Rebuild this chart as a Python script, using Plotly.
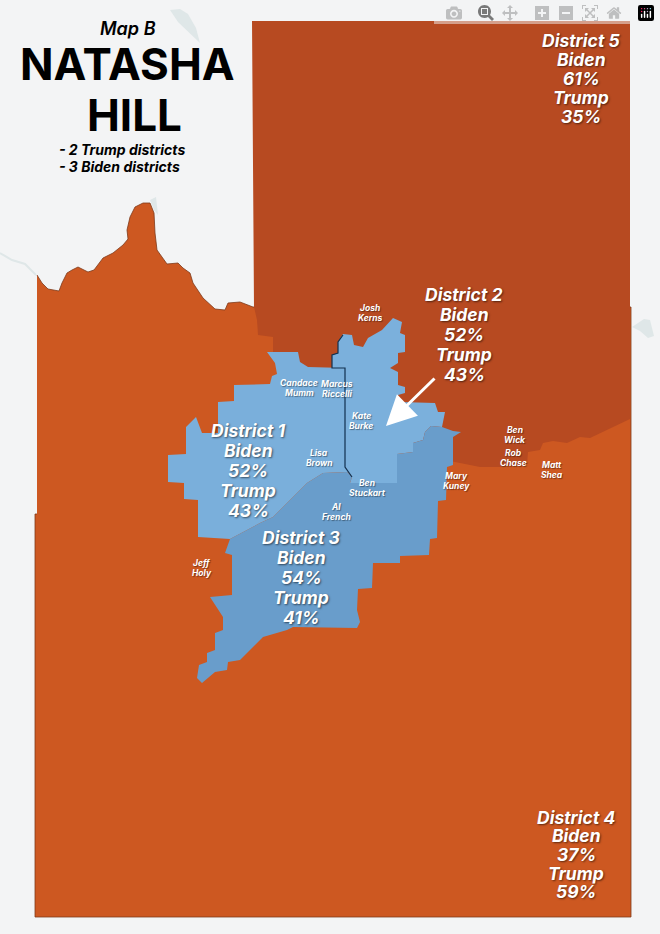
import plotly.graph_objects as go

# district outlines
county_x = [37, 42, 48, 59, 62, 67, 72, 78, 84, 88, 94, 98, 103, 113, 123, 128, 127, 130, 135, 143, 150, 154, 155, 157, 167, 178, 183, 190, 193, 203, 215, 225, 228, 240, 253, 631, 631, 35, 35, 37]
county_y = [275, 283, 289, 291, 283, 273, 270, 267, 270, 272, 270, 265, 258, 253, 245, 239, 230, 217, 207, 203, 203, 213, 233, 250, 264, 263, 268, 273, 283, 298, 309, 310, 303, 302, 307, 307, 917, 917, 514, 514]

d5_x = [252, 630, 630, 613, 600, 590, 580, 567, 553, 543, 540, 528, 527, 500, 480, 455, 400, 273, 273, 258, 257, 254]
d5_y = [21, 21, 419, 427, 433, 438, 437, 443, 441, 443, 450, 452, 465, 467, 467, 462, 450, 352, 337, 335, 320, 307]

d1_x = [230, 198, 198, 184, 184, 168, 168, 186, 186, 196, 202, 218, 218, 234, 234, 270, 272, 277, 275, 267, 298, 300, 308, 332, 345, 345, 352, 347, 323, 307, 293, 273, 260]
d1_y = [539, 537, 500, 499, 483, 482, 455, 454, 427, 417, 433, 433, 402, 401, 385, 384, 376, 374, 363, 352, 352, 362, 367, 368, 368, 467, 477, 472, 473, 483, 497, 517, 523]

d2_x = [332, 332, 338, 338, 343, 352, 354, 363, 368, 382, 393, 402, 400, 405, 405, 398, 398, 390, 398, 398, 405, 405, 398, 400, 435, 438, 445, 442, 431, 425, 423, 413, 413, 397, 397, 350, 352, 345, 345]
d2_y = [368, 355, 353, 342, 334, 335, 345, 347, 338, 330, 318, 322, 333, 335, 352, 353, 363, 368, 372, 385, 387, 393, 395, 402, 403, 412, 412, 427, 426, 432, 440, 443, 452, 454, 483, 483, 477, 467, 368]

d3_x = [230, 260, 273, 293, 307, 323, 347, 352, 350, 397, 397, 413, 413, 423, 425, 431, 442, 453, 461, 453, 453, 447, 446, 438, 437, 430, 429, 400, 400, 373, 372, 358, 357, 360, 357, 293, 287, 263, 245, 240, 228, 227, 215, 202, 197, 199, 207, 207, 215, 215, 223, 223, 210, 232, 232, 225]
d3_y = [539, 523, 517, 497, 483, 473, 472, 477, 483, 483, 454, 452, 443, 440, 432, 426, 427, 431, 432, 437, 465, 467, 500, 501, 538, 539, 555, 556, 563, 563, 588, 589, 610, 622, 628, 627, 630, 637, 655, 660, 662, 670, 672, 683, 678, 665, 662, 653, 650, 633, 630, 617, 597, 595, 555, 553]

line_x = [343, 338, 338, 332, 332, 345, 345, 352]
line_y = [335, 342, 353, 355, 368, 368, 467, 477]

# faint lakes and rivers in the background
lake1_x = [170, 180, 188, 196, 200, 193, 186, 178]
lake1_y = [10, 9, 14, 28, 43, 36, 30, 22]
lake2_x = [632, 644, 650, 654, 648, 640]
lake2_y = [327, 319, 320, 336, 338, 331]
lake3_x = [150, 156, 158, 154]
lake3_y = [200, 197, 215, 210]
river_x = [0, 12, 25, 36]
river_y = [253, 260, 264, 275]

# district result labels
district_names = ["District 1", "District 2", "District 3", "District 4", "District 5"]
biden_pct = [52, 52, 54, 37, 61]
trump_pct = [43, 43, 41, 59, 35]
district_cx = [248, 464, 301, 576, 581]
district_cy = [430, 294, 537, 817, 40]
district_step = [20, 20, 20, 18.7, 19]

# council members
people = [["Josh", "Kerns"], ["Candace", "Mumm"], ["Marcus", "Riccelli"], ["Kate", "Burke"],
          ["Lisa", "Brown"], ["Ben", "Stuckart"], ["Al", "French"], ["Jeff", "Holy"],
          ["Mary", "Kuney"], ["Ben", "Wick"], ["Rob", "Chase"], ["Matt", "Shea"]]
people_x = [370, 299, 337, 361, 319, 367, 336, 202, 456, 515, 513, 552]
people_y = [308, 383, 384, 416, 453, 483, 507, 563, 476, 430, 453, 465]

fig = go.Figure()


def add_shape(xs, ys, color, edge=None):
    fig.add_trace(go.Scatter(x=xs, y=ys, mode="lines", fill="toself", fillcolor=color,
                             line=dict(width=0.8 if edge else 0, color=edge or color),
                             hoverinfo="skip", showlegend=False))


add_shape(lake1_x, lake1_y, "#dfe7e8")
add_shape(lake2_x, lake2_y, "#dfe7e8")
add_shape(lake3_x, lake3_y, "#dfe7e8")
fig.add_trace(go.Scatter(x=river_x, y=river_y, mode="lines", line=dict(color="#dfe7e8", width=2),
                         hoverinfo="skip", showlegend=False))
add_shape(county_x, county_y, "#cd5821", edge="#7d3a1a")
add_shape(d5_x, d5_y, "#b74a21")
add_shape(d1_x, d1_y, "#7aafdb")
add_shape(d2_x, d2_y, "#7bb0dc")
add_shape(d3_x, d3_y, "#699dcb")
fig.add_trace(go.Scatter(x=line_x, y=line_y, mode="lines", line=dict(color="#12304f", width=1.2),
                         hoverinfo="skip", showlegend=False))

SHADOW = "1px 1px 2px rgba(0,0,0,0.55)"
FONT = "Inter"


def label(x, y, text, size, color="white", style="italic", weight=700, shadow=SHADOW, anchor="center"):
    fig.add_annotation(x=x, y=y, text=text, showarrow=False, xanchor=anchor, yanchor="middle",
                       font=dict(family=FONT, size=size, color=color, style=style, weight=weight, shadow=shadow))


for i, name in enumerate(district_names):
    lines = [name, "Biden", f"{biden_pct[i]}%", "Trump", f"{trump_pct[i]}%"]
    for j, line in enumerate(lines):
        label(district_cx[i], district_cy[i] + j * district_step[i], line, 17.5)

for i, pair in enumerate(people):
    for j, line in enumerate(pair):
        label(people_x[i], people_y[i] + j * 10, line, 8.5, shadow="1px 1px 1px rgba(0,0,0,0.4)")

# title block
label(128, 28, "Map B", 18, color="black", shadow="none", weight=600)
label(127, 64, "NATASHA", 44, color="black", style="normal", shadow="none")
label(134, 115, "HILL", 44, color="black", style="normal", shadow="none")
label(57, 149, "- 2 Trump districts", 14, color="black", shadow="none", anchor="left")
label(57, 166, "- 3 Biden districts", 14, color="black", shadow="none", anchor="left")

# arrow pointing into District 2
fig.add_annotation(x=386, y=426, ax=436, ay=377, xref="x", yref="y", axref="x", ayref="y", text="",
                   showarrow=True, arrowhead=2, arrowsize=2, arrowwidth=3, arrowcolor="white")

fig.update_layout(
    width=660, height=934,
    margin=dict(l=0, r=0, t=0, b=0),
    paper_bgcolor="#f3f4f5",
    plot_bgcolor="#f3f4f5",
    xaxis=dict(range=[0, 660], visible=False),
    yaxis=dict(range=[934, 0], visible=False),
)

# the page has a default body margin that would push the map off by 8px
fig.write_html("out.html", post_script="document.body.style.margin='0';document.body.style.overflow='hidden';")
